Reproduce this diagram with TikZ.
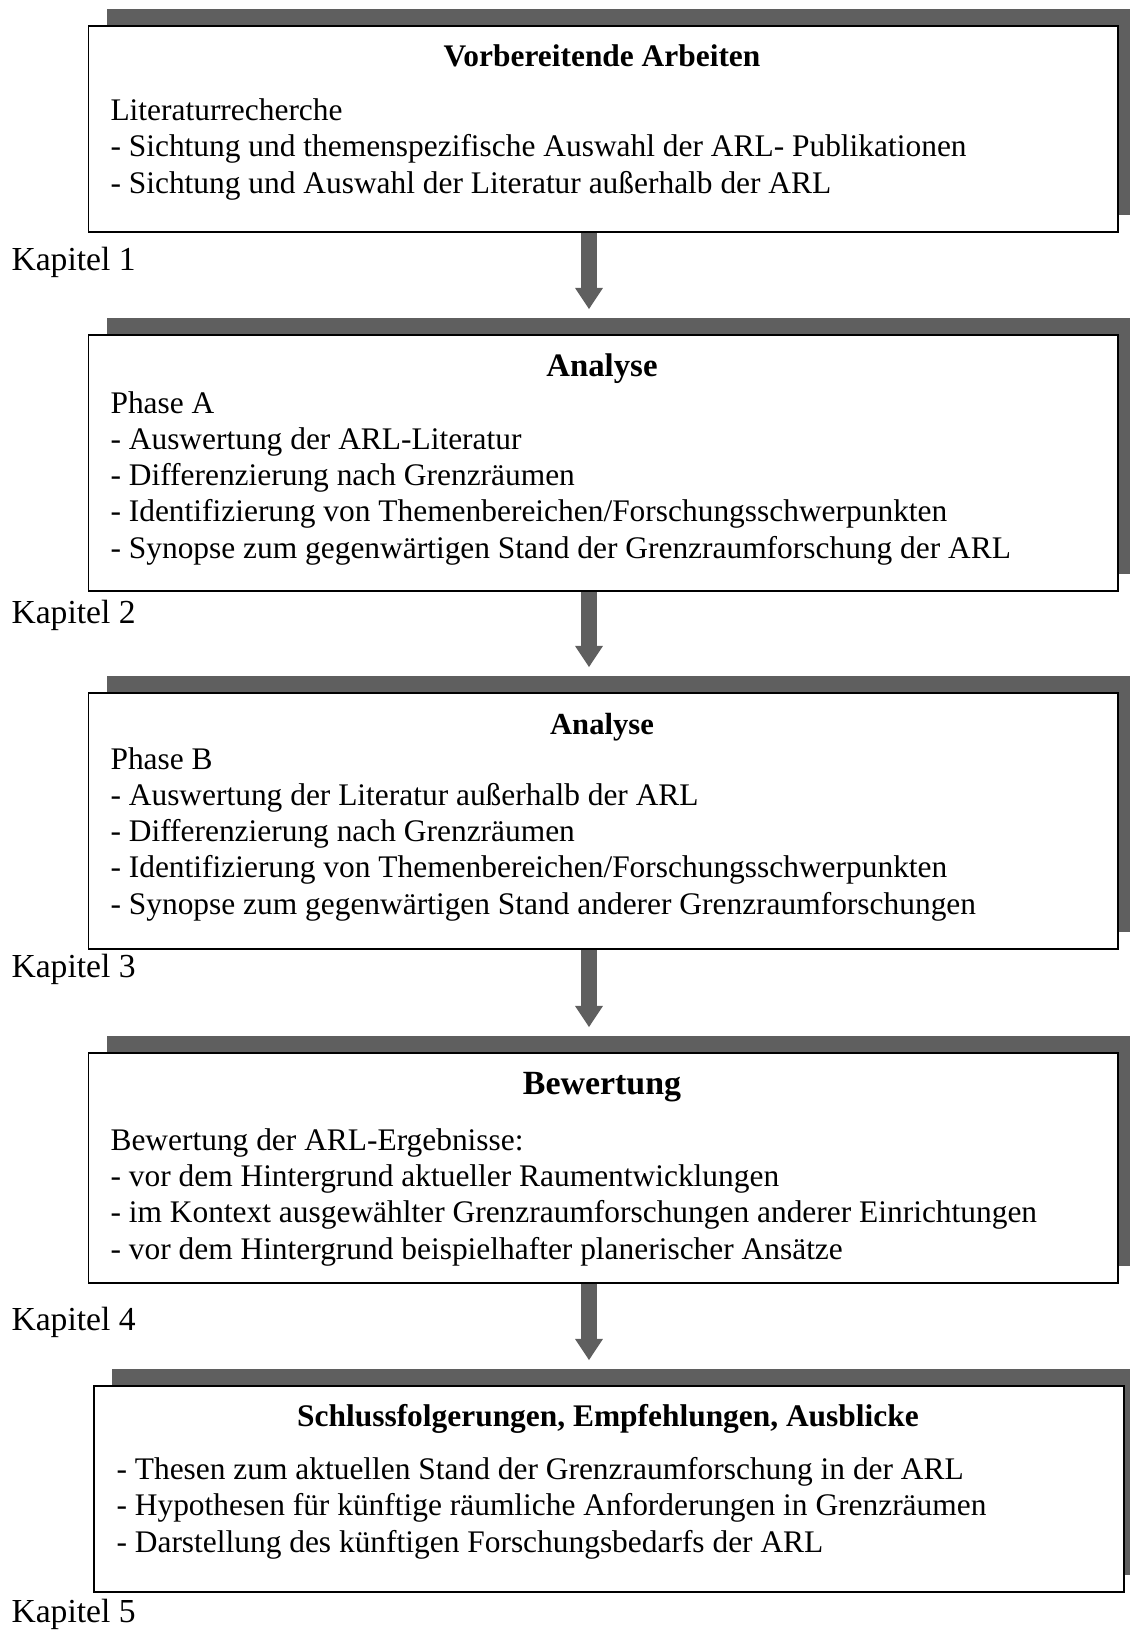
\documentclass[tikz,border=0pt]{standalone}
\usepackage{fontspec}
\setmainfont{Liberation Serif}
\usetikzlibrary{calc,shadows,arrows.meta}
\definecolor{schatten}{HTML}{5F5F5F}
\newcommand{\px}{0.366pt}

\begin{document}
\begin{tikzpicture}[x=\px,y=-\px,
  box/.style={draw,line width=0.73pt,fill=white,anchor=north west,inner sep=0pt,
    minimum width=1029*\px,
    drop shadow={shadow xshift=6.6pt,shadow yshift=6.2pt,fill=schatten,opacity=1}},
  head/.style={anchor=base,inner sep=0pt,font=\fontsize{#1}{#1}\selectfont\bfseries},
  txt/.style={anchor=base west,inner sep=0pt,align=left,font=\fontsize{11.5}{13.25}\selectfont},
  kap/.style={anchor=base west,inner sep=0pt,font=\fontsize{12.3}{14}\selectfont},
  bigarrow/.style={draw=schatten,line width=5.5pt,-{Triangle[width=10.2pt,length=7.7pt,line width=0pt]}}]
  \useasboundingbox (0,0) rectangle (1130,1632);

  % text nodes sit on the baseline of their last line
  \node(vorb)[box,minimum height=206*\px] at (87.5,25) {};
  \node(vorb head)[head=11.5] at (602,66) {Vorbereitende Arbeiten};
  \node(vorb text)[txt] at (110,193) {Literaturrecherche\\
    - Sichtung und themenspezifische Auswahl der ARL- Publikationen\\
    - Sichtung und Auswahl der Literatur außerhalb der ARL};
  \node(kap1)[kap] at (11,270) {Kapitel 1};

  \node(anaA)[box,minimum height=256*\px] at (87.5,334) {};
  \node(anaA head)[head=12] at (602,376) {Analyse};
  \node(anaA text)[txt] at (110,558) {Phase A\\
    - Auswertung der ARL-Literatur\\
    - Differenzierung nach Grenzräumen\\
    - Identifizierung von Themenbereichen/Forschungsschwerpunkten\\
    - Synopse zum gegenwärtigen Stand der Grenzraumforschung der ARL};
  \node(kap2)[kap] at (11,623) {Kapitel 2};

  \node(anaB)[box,minimum height=256*\px] at (87.5,692) {};
  \node(anaB head)[head=11.2] at (602,734) {Analyse};
  \node(anaB text)[txt] at (110,914) {Phase B\\
    - Auswertung der Literatur außerhalb der ARL\\
    - Differenzierung nach Grenzräumen\\
    - Identifizierung von Themenbereichen/Forschungsschwerpunkten\\
    - Synopse zum gegenwärtigen Stand anderer Grenzraumforschungen};
  \node(kap3)[kap] at (11,977) {Kapitel 3};

  \node(bew)[box,minimum height=230*\px] at (87.5,1052) {};
  \node(bew head)[head=12.4] at (602,1094) {Bewertung};
  \node(bew text)[txt] at (110,1259) {Bewertung der ARL-Ergebnisse:\\
    - vor dem Hintergrund aktueller Raumentwicklungen\\
    - im Kontext ausgewählter Grenzraumforschungen anderer Einrichtungen\\
    - vor dem Hintergrund beispielhafter planerischer Ansätze};
  \node(kap4)[kap] at (11,1330) {Kapitel 4};

  \node(schluss)[box,minimum height=206*\px,minimum width=1030*\px] at (93,1385) {};
  \node(schluss head)[head=11.5] at (608,1426) {Schlussfolgerungen, Empfehlungen, Ausblicke};
  \node(schluss text)[txt] at (116,1552) {- Thesen zum aktuellen Stand der Grenzraumforschung in der ARL\\
    - Hypothesen für künftige räumliche Anforderungen in Grenzräumen\\
    - Darstellung des künftigen Forschungsbedarfs der ARL};
  \node(kap5)[kap] at (11,1622) {Kapitel 5};

  \coordinate (pfeil) at (589,0);
  \draw[bigarrow] (vorb.south -| pfeil) -- ($(anaA.north -| pfeil)+(0,-25)$);
  \draw[bigarrow] (anaA.south -| pfeil) -- ($(anaB.north -| pfeil)+(0,-25)$);
  \draw[bigarrow] (anaB.south -| pfeil) -- ($(bew.north -| pfeil)+(0,-25)$);
  \draw[bigarrow] (bew.south -| pfeil) -- ($(schluss.north -| pfeil)+(0,-25)$);
\end{tikzpicture}
\end{document}
